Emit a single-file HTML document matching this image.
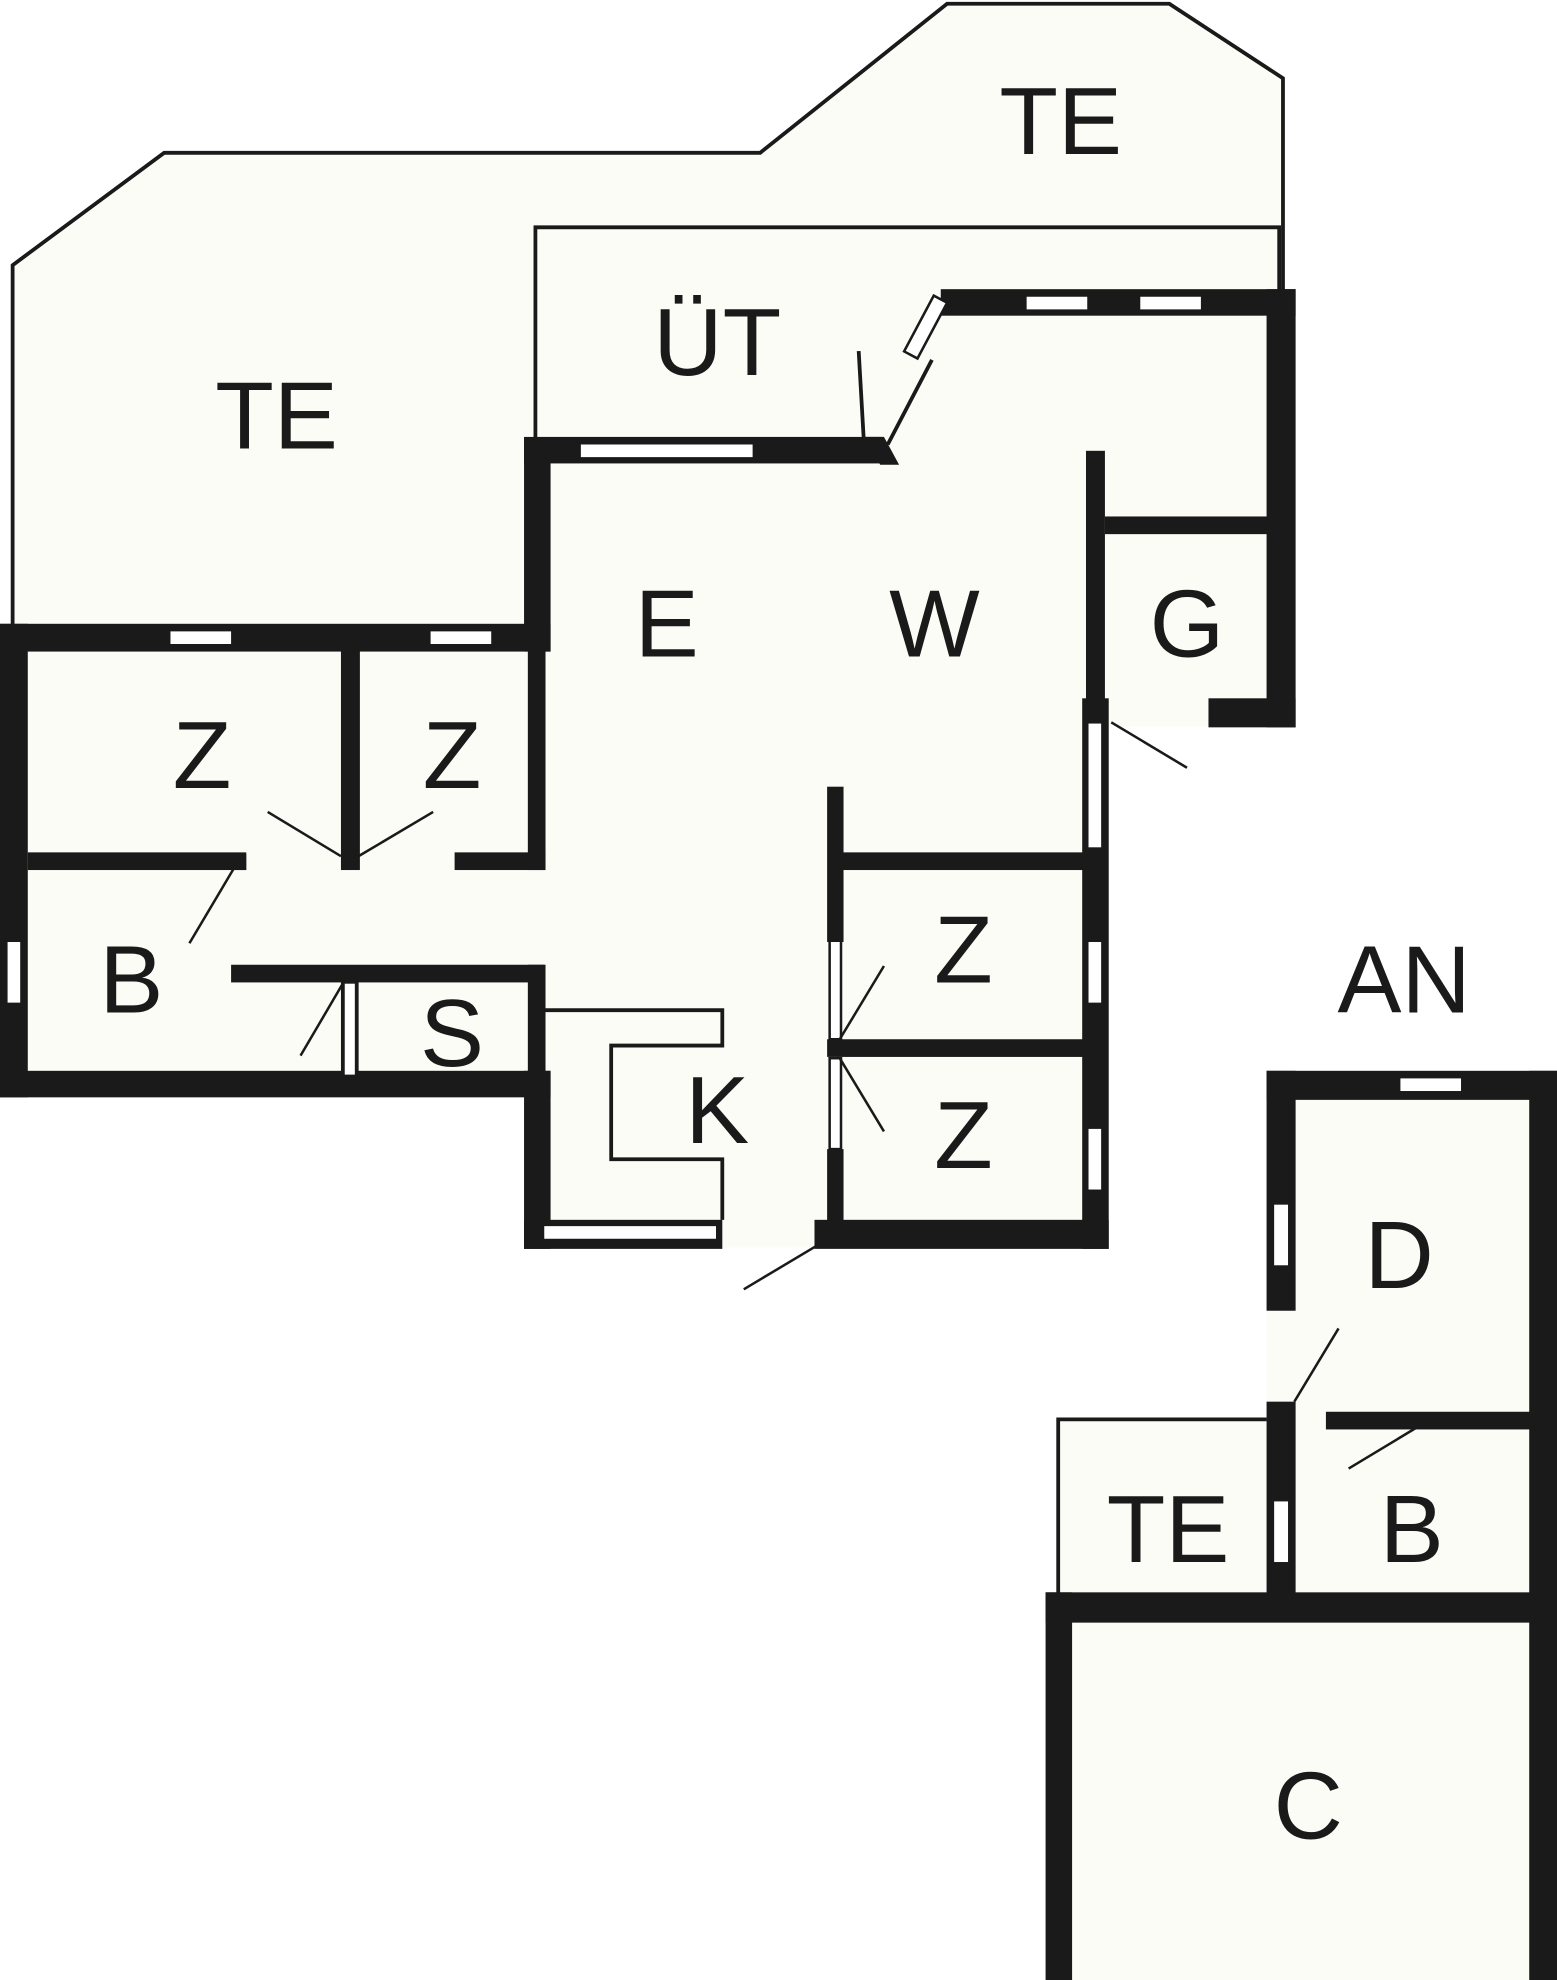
<!DOCTYPE html>
<html><head><meta charset="utf-8"><style>
html,body{margin:0;padding:0;background:#fff;}
svg{display:block}
text{font-family:"Liberation Sans",sans-serif;font-size:76px;fill:#1a1a1a;text-anchor:middle}
</style></head><body>
<svg width="1557" height="1980" viewBox="0 0 1233 1568" preserveAspectRatio="none" xmlns="http://www.w3.org/2000/svg">
<g fill="#fcfcf7" stroke="none">
<polygon points="10,495 10,210 130,121 602,121 750,3 926,3 1016,62 1016,240 1014,575 878,575 878,988 415,988 415,868 0,868 0,495"/>
<rect x="1003" y="848" width="230" height="720"/>
<rect x="836" y="1122" width="180" height="446"/>
</g>
<g fill="none" stroke="#1a1a1a" stroke-width="3">
<polyline points="10,497 10,210 130,121 602,121 750,3 926,3 1016,62 1016,232"/>
<polyline points="424,350 424,180 1013,180 1013,232"/>
<line x1="680" y1="278" x2="684" y2="348"/>
<line x1="703" y1="352" x2="738" y2="285"/>
<polyline points="430,800 572,800 572,828 484,828 484,918 572,918 572,966"/>
<polyline points="838,1262 838,1124 1003,1124"/>
</g>
<g fill="#1a1a1a">
<!-- main house -->
<rect x="0" y="494" width="436" height="22"/>
<rect x="0" y="494" width="22" height="375"/>
<rect x="0" y="848" width="436" height="21"/>
<rect x="415" y="347" width="21" height="169"/>
<rect x="415" y="346" width="283" height="21"/>
<polygon points="685,346 700,346 712,368 697,368"/>
<rect x="745" y="229" width="281" height="21"/>
<rect x="1003" y="229" width="23" height="347"/>
<rect x="957" y="553" width="69" height="23"/>
<rect x="860" y="357" width="15" height="197"/>
<rect x="875" y="409" width="130" height="14"/>
<rect x="857" y="553" width="21" height="436"/>
<rect x="665" y="675" width="195" height="14"/>
<rect x="655" y="823" width="205" height="14"/>
<rect x="645" y="966" width="233" height="23"/>
<rect x="655" y="623" width="13" height="123"/>
<rect x="655" y="910" width="13" height="60"/>
<rect x="415" y="848" width="21" height="141"/>
<rect x="415" y="966" width="157" height="23"/>
<rect x="22" y="675" width="173" height="14"/>
<rect x="360" y="675" width="72" height="14"/>
<rect x="270" y="515" width="15" height="174"/>
<rect x="418" y="515" width="14" height="174"/>
<rect x="183" y="764" width="248" height="14"/>
<rect x="418" y="764" width="14" height="86"/>
<rect x="183" y="676" width="12" height="13"/>
<rect x="270" y="777" width="14" height="76"/>
<!-- annex -->
<rect x="1003" y="848" width="230" height="23"/>
<rect x="1211" y="848" width="22" height="720"/>
<rect x="1003" y="848" width="23" height="190"/>
<rect x="1003" y="1110" width="23" height="172"/>
<rect x="1050" y="1118" width="162" height="14"/>
<rect x="828" y="1261" width="405" height="24"/>
<rect x="828" y="1261" width="21" height="307"/>
</g>
<!-- windows -->
<g fill="#fff" stroke="#1a1a1a" stroke-width="2">
<rect x="134" y="499" width="50" height="12"/>
<rect x="340" y="499" width="50" height="12"/>
<rect x="459" y="351" width="138" height="12"/>
<rect x="812" y="234" width="50" height="12"/>
<rect x="902" y="234" width="50" height="12"/>
<rect x="5" y="745" width="12" height="50"/>
<rect x="861" y="572" width="12" height="100"/>
<rect x="861" y="745" width="12" height="50"/>
<rect x="861" y="893" width="12" height="50"/>
<rect x="430" y="970" width="138" height="12"/>
<rect x="272" y="778" width="10" height="74"/>
<rect x="1108" y="853" width="50" height="12"/>
<rect x="1008" y="953" width="13" height="50"/>
<rect x="1008" y="1188" width="13" height="50"/>
<rect x="657" y="745" width="9" height="78"/>
<rect x="657" y="838" width="9" height="72"/>
<rect x="727" y="234" width="12" height="50" transform="rotate(28 733 259)"/>
</g>
<g stroke="#1a1a1a" stroke-width="2" fill="none">
<line x1="212" y1="643" x2="270" y2="678"/>
<line x1="343" y1="643" x2="284" y2="678"/>
<line x1="150" y1="747" x2="185" y2="688"/>
<line x1="238" y1="836" x2="272" y2="778"/>
<line x1="665" y1="823" x2="700" y2="765"/>
<line x1="665" y1="838" x2="700" y2="896"/>
<line x1="589" y1="1021" x2="646" y2="987"/>
<line x1="880" y1="572" x2="940" y2="608"/>
<line x1="1025" y1="1110" x2="1060" y2="1052"/>
<line x1="1068" y1="1163" x2="1126" y2="1128"/>
</g>
<text x="219" y="355">TE</text>
<text x="840" y="122">TE</text>
<text x="568" y="297">ÜT</text>
<text x="528" y="520">E</text>
<text x="740" y="520">W</text>
<text x="940" y="520">G</text>
<text x="160" y="624">Z</text>
<text x="358" y="624">Z</text>
<text x="104" y="802">B</text>
<text x="358" y="844">S</text>
<text x="568" y="905">K</text>
<text x="763" y="778">Z</text>
<text x="763" y="925">Z</text>
<text x="1112" y="802">AN</text>
<text x="1108" y="1020">D</text>
<text x="925" y="1237">TE</text>
<text x="1118" y="1237">B</text>
<text x="1036" y="1456">C</text>
</svg>
</body></html>
